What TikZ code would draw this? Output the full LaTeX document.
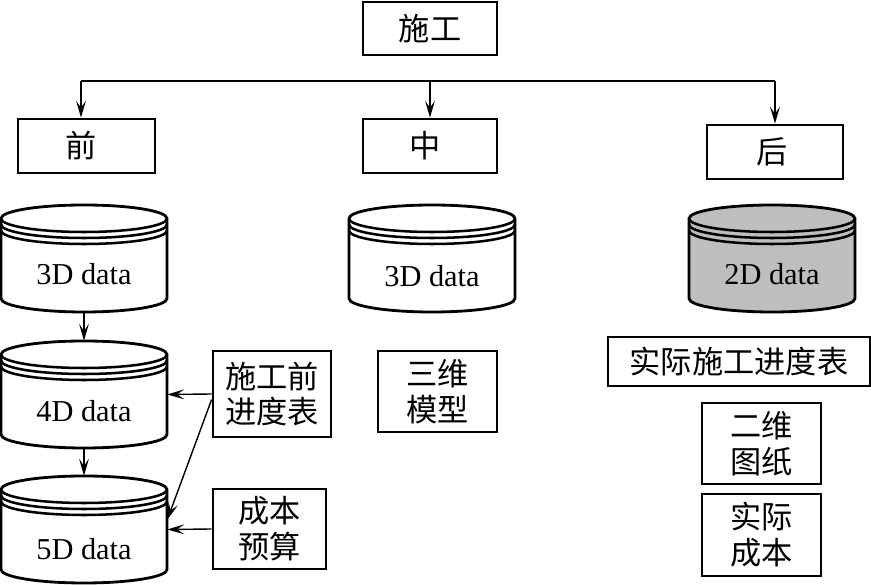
\documentclass[tikz,border=0pt]{standalone}
\usepackage{fontspec}
\setmainfont{Liberation Serif}
\newfontfamily\cjk{Noto Sans CJK SC}
\usetikzlibrary{arrows.meta}
\definecolor{diskgray}{RGB}{190,190,190}
\tikzset{
    box/.style={draw, line width=2pt, inner sep=0pt, align=center, font=\cjk\fontsize{22.2}{25.5}\selectfont},
    diskbody/.style={inner sep=0pt, minimum width=4.15cm, minimum height=2.675cm},
    disktext/.style={inner sep=0pt, font=\fontsize{21.6}{26}\selectfont},
    link/.style={line width=1pt, -{Stealth[length=12pt, width=7pt, inset=5pt]}}
}
\begin{document}
\begin{tikzpicture}[x=0.025cm, y=0.025cm]
    \useasboundingbox (0,0) rectangle (871,585);
    % Top row
    \node[box, minimum width=3.35cm, minimum height=1.325cm] (boxWork) at (430,556.5) {施工};
    \node[box, minimum width=3.425cm, minimum height=1.35cm] (boxBefore) at (86.5,439) {\hspace*{-7pt}前};
    \node[box, minimum width=3.35cm, minimum height=1.35cm] (boxDuring) at (430,439) {\hspace*{-7pt}中};
    \node[box, minimum width=3.4cm, minimum height=1.35cm] (boxAfter) at (775,433) {\hspace*{-4pt}后};
    % Disks
    \foreach \dname/\x/\y/\txt/\dy/\col in {disk3/84/326.5/3D data/16/white, disk4/84/190.5/4D data/17/white, disk5/84/55.5/5D data/20/white, diskMid/432/326.5/3D data/18/white, diskAfter/772/326.5/2D data/16/diskgray} {
        \draw[line width=2pt, fill=\col] (\x-83,\y+40) arc[start angle=180, end angle=0, x radius=83, y radius=13.5]
            -- (\x+83,\y-40) arc[start angle=0, end angle=-180, x radius=83, y radius=13.5] -- cycle;
        \foreach \s in {0,6,12} \draw[line width=1.8pt] (\x-83,\y+40-\s) arc[start angle=180, end angle=360, x radius=83, y radius=13.5];
        \node[diskbody] (\dname) at (\x,\y) {};
        \node[disktext] (\dname text) at (\x,\y-\dy) {\txt};
    }
    % Side boxes
    \node[box, minimum width=2.95cm, minimum height=2.15cm] (boxPlan) at (272,191) {施工前\\进度表};
    \node[box, minimum width=2.825cm, minimum height=2cm] (boxBudget) at (269.5,56) {成本\\预算};
    \node[box, minimum width=2.975cm, minimum height=2.025cm] (boxModel) at (437.5,193.5) {三维\\模型};
    \node[box, minimum width=6.55cm, minimum height=1.225cm] (boxActual) at (739,223.5) {实际施工进度表};
    \node[box, minimum width=2.975cm, minimum height=2.025cm] (boxDrawing) at (761.5,141.5) {二维\\图纸};
    \node[box, minimum width=2.975cm, minimum height=2.05cm] (boxCost) at (761.5,50) {实际\\成本};
    % Bus
    \coordinate (busLeft) at (81,504);
    \coordinate (busMid) at (430,504);
    \coordinate (busRight) at (775,504);
    \draw[line width=1.2pt] (busLeft) -- (busRight);
    \draw[link] (busLeft) -- (busLeft |- boxBefore.north);
    \draw[link] (busMid) -- (boxDuring.north);
    \draw[link] (busRight) -- (boxAfter.north);
    % Links
    \draw[link] (disk3.south) -- (disk4.north);
    \draw[link] (disk4.south) -- (disk5.north);
    \draw[link] (boxPlan.west) -- (disk4.east);
    \draw[link] (boxBudget.west) -- (disk5.east);
    \draw[link] ([yshift=-4]boxPlan.west) -- ([yshift=7]disk5.east);
\end{tikzpicture}
\end{document}
